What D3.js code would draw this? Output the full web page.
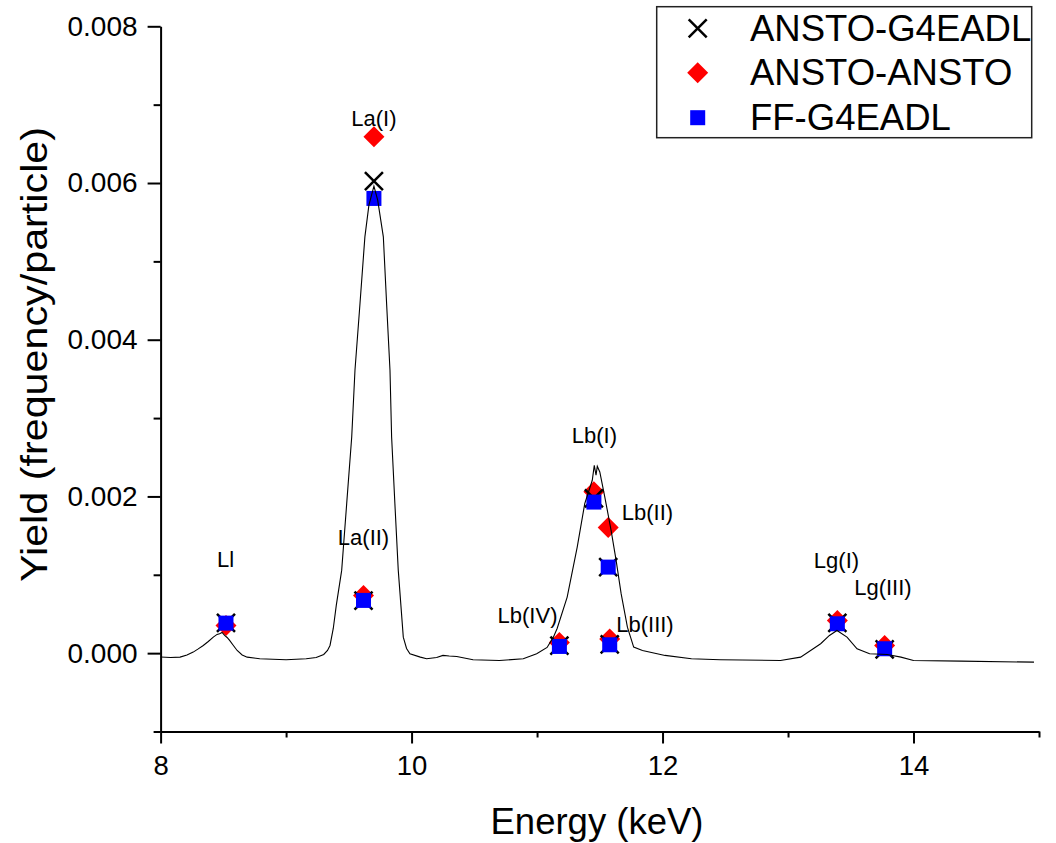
<!DOCTYPE html>
<html>
<head>
<meta charset="utf-8">
<script src="https://cdn.jsdelivr.net/npm/d3@7/dist/d3.min.js"></script>
<style>
  html, body { margin: 0; padding: 0; background: #fff; }
  svg { display: block; font-family: "Liberation Sans", Arial, sans-serif; }
</style>
</head>
<body>
<svg id="chart" width="1056" height="843"></svg>
<script>
// ---------- data ----------
const spectrumEnergy = [8.00, 8.08, 8.155, 8.21, 8.26, 8.30, 8.34, 8.38, 8.42, 8.45, 8.47, 8.49, 8.51, 8.53, 8.55, 8.58, 8.61, 8.65, 8.69, 8.79, 9.00, 9.16, 9.24, 9.30, 9.33, 9.35, 9.376, 9.40, 9.443, 9.483, 9.523, 9.549, 9.589, 9.628, 9.66, 9.70, 9.73, 9.775, 9.801, 9.828, 9.841, 9.867, 9.894, 9.934, 9.96, 9.987, 10.07, 10.12, 10.20, 10.25, 10.30, 10.36, 10.49, 10.70, 10.89, 10.997, 11.08, 11.13, 11.16, 11.24, 11.32, 11.38, 11.44, 11.456, 11.47, 11.48, 11.50, 11.54, 11.59, 11.63, 11.67, 11.72, 11.77, 11.84, 12.02, 12.23, 12.46, 12.94, 13.10, 13.26, 13.33, 13.39, 13.47, 13.55, 13.65, 13.79, 13.90, 14.00, 14.38, 14.96];
const spectrumYield = [-0.000049, -0.000055, -0.000051, -0.000023, 0.000013, 0.000054, 0.000098, 0.000149, 0.000204, 0.000239, 0.000248, 0.000264, 0.000226, 0.000200, 0.000162, 0.000098, 0.000034, -0.000023, -0.000051, -0.000072, -0.000084, -0.000072, -0.000055, -0.000017, 0.000034, 0.000098, 0.000315, 0.000609, 0.001056, 0.001908, 0.002759, 0.003610, 0.004462, 0.005313, 0.005718, 0.005960, 0.005782, 0.005313, 0.004462, 0.003610, 0.002759, 0.001908, 0.001056, 0.000204, 0.000060, -0.000008, -0.000051, -0.000072, -0.000055, -0.000029, -0.000036, -0.000042, -0.000084, -0.000093, -0.000072, -0.000008, 0.000073, 0.000204, 0.000315, 0.000715, 0.001354, 0.001908, 0.002206, 0.002397, 0.002270, 0.002384, 0.002312, 0.001992, 0.001567, 0.001184, 0.000759, 0.000332, 0.000077, 0.000034, -0.000029, -0.000072, -0.000084, -0.000093, -0.000051, 0.000120, 0.000226, 0.000290, 0.000204, 0.000056, -0.000008, -0.000017, -0.000051, -0.000093, -0.000102, -0.000115];

const lineLabels = ["Ll", "La(II)", "La(I)", "Lb(IV)", "Lb(I)", "Lb(II)", "Lb(III)", "Lg(I)", "Lg(III)"];
const lineEnergy = [8.521, 9.617, 9.700, 11.178, 11.453, 11.567, 11.579, 13.393, 13.770];
const anstoG4eadl = [0.000386, 0.000669, 0.006024, 0.0000945, 0.001976, 0.001098, 0.000111, 0.000386, 0.0000473];
const anstoAnsto  = [0.000354, 0.000737, 0.006590, 0.000137, 0.002060, 0.001602, 0.000180, 0.000418, 0.0000983];
const ffG4eadl    = [0.000383, 0.000673, 0.005803, 0.0000856, 0.001928, 0.001098, 0.000107, 0.000375, 0.0000562];

// annotation anchor (data coordinates)
const labelEnergy = [8.517, 9.617, 9.700, 10.924, 11.457, 11.880, 11.860, 13.386, 13.756];
const labelYield  = [0.001094, 0.001375, 0.006727, 0.000380, 0.002678, 0.001695, 0.000264, 0.001082, 0.000737];

const seriesNames = ["ANSTO-G4EADL", "ANSTO-ANSTO", "FF-G4EADL"];
const xMajorTicks = [8, 10, 12, 14];
const xMinorTicks = [9, 11, 13, 15];
const yMajorTicks = [0, 0.002, 0.004, 0.006, 0.008];
const yMinorTicks = [-0.001, 0.001, 0.003, 0.005, 0.007];

// ---------- chart ----------
const svg = d3.select("#chart");
svg.append("rect").attr("width", 1056).attr("height", 843).attr("fill", "#fff");

const x = d3.scaleLinear().domain([8, 15]).range([160.6, 1039]);
const y = d3.scaleLinear().domain([-0.001, 0.008]).range([731.5, 26.3]);

const FONT = '"Liberation Sans", Arial, sans-serif';

// X axis
const gx = svg.append("g").attr("transform", `translate(0,${y(-0.001)})`);
gx.call(d3.axisBottom(x).tickValues(xMajorTicks).tickFormat(d3.format("d")).tickSize(12).tickPadding(12).tickSizeOuter(0));
gx.append("g").call(d3.axisBottom(x).tickValues(xMinorTicks).tickFormat("").tickSize(6).tickSizeOuter(0))
  .select(".domain").remove();
gx.selectAll("path.domain").attr("stroke", "#000").attr("stroke-width", 2);
gx.selectAll("line").attr("stroke", "#000").attr("stroke-width", 2);
gx.selectAll("text").attr("font-size", 27.5).attr("font-family", FONT).attr("fill", "#000");

// Y axis
const gy = svg.append("g").attr("transform", `translate(${x(8)},0)`);
gy.call(d3.axisLeft(y).tickValues(yMajorTicks).tickFormat(d3.format(".3f")).tickSize(13).tickPadding(10).tickSizeOuter(0));
gy.append("g").call(d3.axisLeft(y).tickValues(yMinorTicks).tickFormat("").tickSize(7).tickSizeOuter(0))
  .select(".domain").remove();
gy.selectAll("path.domain").attr("stroke", "#000").attr("stroke-width", 2);
gy.selectAll("line").attr("stroke", "#000").attr("stroke-width", 2);
gy.selectAll("text").attr("font-size", 28).attr("font-family", FONT).attr("fill", "#000");

// Axis titles
svg.append("text").attr("x", 597).attr("y", 834)
  .attr("text-anchor", "middle").attr("font-size", 36.5).attr("font-family", FONT)
  .text("Energy (keV)");
svg.append("text").attr("transform", "translate(47,582) rotate(-90)")
  .attr("text-anchor", "start").attr("font-size", 36).attr("font-family", FONT)
  .attr("textLength", 455).attr("lengthAdjust", "spacingAndGlyphs")
  .text("Yield (frequency/particle)");

// markers
const pts = (vals) => lineEnergy.map((e, i) => ({ e, v: vals[i] }));
const S = 7.5; // half size

function drawCross(g, cx, cy) {
  g.append("path").attr("d", `M${cx - 9},${cy - 9}L${cx + 9},${cy + 9}M${cx - 9},${cy + 9}L${cx + 9},${cy - 9}`)
    .attr("stroke", "#000").attr("stroke-width", 2.5).attr("fill", "none");
}
function drawDiamond(g, cx, cy) {
  g.append("path").attr("d", `M${cx},${cy - 10.5}L${cx + 10.5},${cy}L${cx},${cy + 10.5}L${cx - 10.5},${cy}Z`)
    .attr("fill", "#ff0000");
}
function drawSquare(g, cx, cy) {
  g.append("rect").attr("x", cx - S).attr("y", cy - S).attr("width", 2 * S).attr("height", 2 * S)
    .attr("fill", "#0000ff");
}

const gm = svg.append("g");
pts(anstoAnsto).forEach(d => drawDiamond(gm, x(d.e), y(d.v)));
pts(anstoG4eadl).forEach(d => drawCross(gm, x(d.e), y(d.v)));
pts(ffG4eadl).forEach(d => drawSquare(gm, x(d.e), y(d.v)));

// spectrum line
const spectrum = spectrumEnergy.map((e, i) => [e, spectrumYield[i]]);
svg.append("path").datum(spectrum)
  .attr("d", d3.line().x(d => x(d[0])).y(d => y(d[1])))
  .attr("fill", "none").attr("stroke", "#000").attr("stroke-width", 1.1);

// annotations
svg.append("g").selectAll("text").data(lineLabels).join("text")
  .attr("x", (d, i) => x(labelEnergy[i]))
  .attr("y", (d, i) => y(labelYield[i]))
  .attr("text-anchor", "middle").attr("font-size", 22).attr("font-family", FONT)
  .text(d => d);

// legend
const lg = svg.append("g");
lg.append("rect").attr("x", 656.7).attr("y", 6.7).attr("width", 375).attr("height", 131)
  .attr("fill", "#fff").attr("stroke", "#222").attr("stroke-width", 1.5);
const legendRowY = [28.3, 72.7, 117.7];
drawCross(lg, 697.7, legendRowY[0]);
drawDiamond(lg, 697.7, legendRowY[1]);
drawSquare(lg, 697.7, legendRowY[2]);
lg.selectAll("text").data(seriesNames).join("text")
  .attr("x", 750).attr("y", (d, i) => legendRowY[i] + 12.5)
  .attr("font-size", 36.5).attr("font-family", FONT).text(d => d);
</script>
</body>
</html>
